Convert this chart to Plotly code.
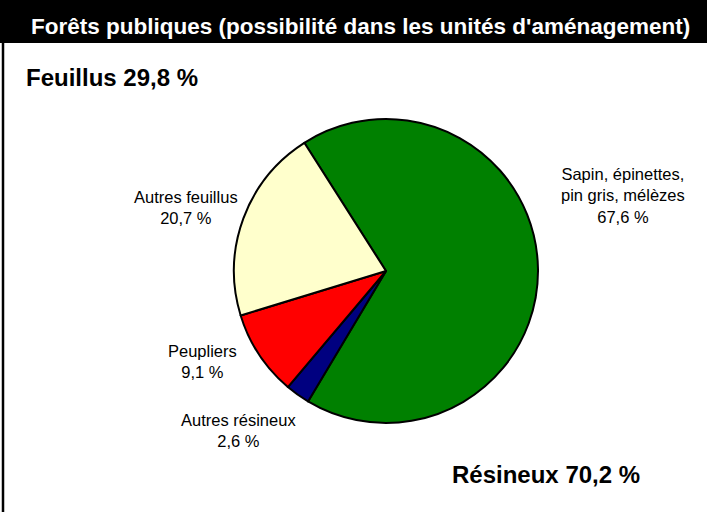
import plotly.graph_objects as go

# Data
categories = ["Sapin, épinettes,<br>pin gris, mélèzes", "Autres résineux", "Peupliers", "Autres feuillus"]
values = [67.6, 2.6, 9.1, 20.7]
value_labels = ["67,6 %", "2,6 %", "9,1 %", "20,7 %"]
colors = ["#008000", "#000080", "#FF0000", "#FFFFCC"]
title_text = "Forêts publiques (possibilité dans les unités d'aménagement)"
group_labels = ["Feuillus 29,8 %", "Résineux 70,2 %"]

W, H = 707, 512
FONT = "Liberation Sans Narrow, Arial Narrow, Liberation Sans, Arial, sans-serif"

cx, cy, r = 386, 271, 152

fig = go.Figure(go.Pie(
    labels=categories,
    values=values,
    sort=False,
    direction="clockwise",
    rotation=-32.5,
    marker=dict(colors=colors, line=dict(color="black", width=2)),
    textinfo="none",
    hoverinfo="label+percent",
    showlegend=False,
    domain=dict(x=[(cx - r) / W, (cx + r) / W], y=[1 - (cy + r) / H, 1 - (cy - r) / H]),
))

def px(x):
    return x / W

def py(y):
    return 1 - y / H

shapes = [
    dict(type="line", xref="paper", yref="paper", x0=px(3), x1=px(3), y0=0, y1=py(42),
         line=dict(color="black", width=2.5)),
    dict(type="rect", xref="paper", yref="paper", x0=0, x1=1, y0=py(43), y1=1,
         line=dict(width=0), fillcolor="black", layer="below"),
]

annotations = [
    dict(text="<b>" + title_text + "</b>", x=px(360.5), y=py(26), font=dict(size=22.5, color="white")),
    dict(text="<b>" + group_labels[0] + "</b>", x=px(24), y=py(77), xanchor="left", font=dict(size=24)),
    dict(text="<b>" + group_labels[1] + "</b>", x=px(450), y=py(474), xanchor="left", font=dict(size=24)),
]
label_pos = [(623, 195), (238, 430), (202, 361), (186, 207)]
for cat, vl, (lx, ly) in zip(categories, value_labels, label_pos):
    annotations.append(dict(text=cat + "<br>" + vl, x=px(lx), y=py(ly), font=dict(size=16.5)))

for a in annotations:
    a.update(xref="paper", yref="paper", showarrow=False)
    a.setdefault("xanchor", "center")
    a["yanchor"] = "middle"
    a["font"].setdefault("color", "black")
    a["font"]["family"] = FONT

fig.update_layout(
    width=W, height=H,
    margin=dict(l=0, r=0, t=0, b=0),
    paper_bgcolor="white",
    plot_bgcolor="white",
    shapes=shapes,
    annotations=annotations,
    font=dict(family=FONT, color="black"),
)

fig.write_html("out.html", config={"displayModeBar": False},
               post_script="document.body.style.margin='0';document.body.style.padding='0';")
